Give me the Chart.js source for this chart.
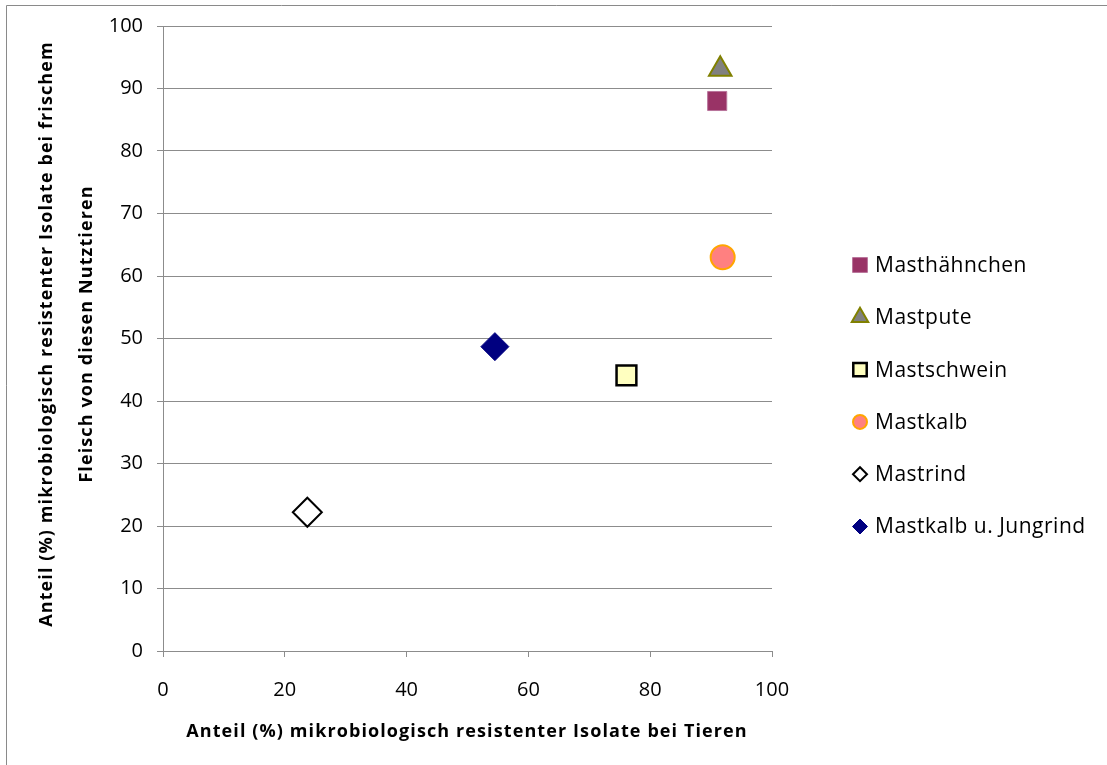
<!DOCTYPE html>
<html lang="de">
<head>
<meta charset="utf-8">
<title>Resistente Isolate bei Tieren und Fleisch</title>
<script src="https://cdn.jsdelivr.net/npm/chart.js@4.4.1/dist/chart.umd.min.js"></script>
<style>
  html, body { margin: 0; padding: 0; background: #ffffff; }
  #wrap { width: 1107px; height: 765px; position: relative; }
</style>
</head>
<body>
<div id="wrap"><canvas id="chart" width="1107" height="765"></canvas></div>
<script>
// Tierarten (eine Datenreihe je Art)
const seriesNames = ['Masthähnchen', 'Mastpute', 'Mastschwein', 'Mastkalb', 'Mastrind', 'Mastkalb u. Jungrind'];
// Anteil (%) resistenter Isolate bei Tieren
const animalShare = [91.0, 91.5, 76.1, 91.9, 23.7, 54.5];
// Anteil (%) resistenter Isolate bei frischem Fleisch
const meatShare = [88.0, 93.1, 44.1, 63.0, 22.2, 48.7];
// Achsenbeschriftungen
const xTicks = [0, 20, 40, 60, 80, 100];
const yTicks = [0, 10, 20, 30, 40, 50, 60, 70, 80, 90, 100];
const xTitle = 'Anteil (%) mikrobiologisch resistenter Isolate bei Tieren';
const yTitle = ['Anteil (%) mikrobiologisch resistenter Isolate bei frischem', 'Fleisch von diesen Nutztieren'];

// Markerformen und Farben je Reihe
const markerStyles = [
  { pointStyle: 'rect',     radius: 13.5, bg: '#993366', border: '#b8739a', bw: 1,   legendRadius: 10.5 },
  { pointStyle: 'triangle', radius: 13,   bg: '#808080', border: '#808000', bw: 2,   legendRadius: 9.5 },
  { pointStyle: 'rect',     radius: 14,   bg: '#ffffc0', border: '#000000', bw: 2.5, legendRadius: 9.5 },
  { pointStyle: 'circle',   radius: 12,   bg: '#ff8080', border: '#ffa500', bw: 2,   legendRadius: 7 },
  { pointStyle: 'rectRot',  radius: 14.5, bg: '#ffffff', border: '#000000', bw: 2,   legendRadius: 7 },
  { pointStyle: 'rectRot',  radius: 14,   bg: '#000080', border: '#000080', bw: 1,   legendRadius: 7.5 }
];

const FONT = '"Open Sans", "Liberation Sans", sans-serif';
const GRID = '#8c8c8c';

const datasets = seriesNames.map((name, i) => ({
  label: name,
  data: [{ x: animalShare[i], y: meatShare[i] }],
  pointStyle: markerStyles[i].pointStyle,
  pointRadius: markerStyles[i].radius,
  pointHoverRadius: markerStyles[i].radius,
  backgroundColor: markerStyles[i].bg,
  borderColor: markerStyles[i].border,
  pointBorderWidth: markerStyles[i].bw,
  showLine: false
}));

// Rahmen, Achsentitel und Legende
const decorations = {
  id: 'decorations',
  beforeDraw(chart) {
    const ctx = chart.ctx;
    ctx.save();
    ctx.fillStyle = '#ffffff';
    ctx.fillRect(0, 0, chart.width, chart.height);
    ctx.strokeStyle = '#8a8a8a';
    ctx.lineWidth = 1;
    ctx.beginPath();
    ctx.moveTo(6.5, chart.height);
    ctx.lineTo(6.5, 5.5);
    ctx.lineTo(chart.width, 5.5);
    ctx.stroke();
    ctx.restore();
  },
  afterDraw(chart) {
    const ctx = chart.ctx;
    ctx.save();
    ctx.fillStyle = '#000000';
    ctx.font = 'bold 18px ' + FONT;
    ctx.letterSpacing = '1.1px';
    ctx.textAlign = 'center';
    ctx.textBaseline = 'middle';
    ctx.fillText(xTitle, 467, 732);

    ctx.save();
    ctx.translate(0, 334);
    ctx.rotate(-Math.PI / 2);
    ctx.fillText(yTitle[0], 0, 47);
    ctx.fillText(yTitle[1], 0, 87);
    ctx.restore();

    // Legende
    ctx.font = '21px ' + FONT;
    ctx.letterSpacing = '0.5px';
    ctx.textAlign = 'left';
    chart.data.datasets.forEach((ds, i) => {
      const y = 265 + i * 52.3;
      const st = markerStyles[i];
      ctx.fillStyle = st.bg;
      ctx.strokeStyle = st.border;
      ctx.lineWidth = st.bw;
      Chart.helpers.drawPoint(ctx, { pointStyle: st.pointStyle, radius: st.legendRadius, rotation: 0, borderWidth: st.bw }, 860, y);
      ctx.fillStyle = '#000000';
      ctx.fillText(ds.label, 875, y + 1);
    });
    ctx.restore();
  }
};

new Chart(document.getElementById('chart'), {
  type: 'scatter',
  data: { datasets },
  plugins: [decorations],
  options: {
    responsive: false,
    animation: false,
    layout: { padding: { top: 23, right: 335, left: 0, bottom: 0 } },
    plugins: {
      legend: { display: false },
      tooltip: { enabled: false },
      title: { display: false }
    },
    scales: {
      x: {
        type: 'linear',
        min: 0, max: 100,
        afterFit(scale) { scale.height = 114; },
        afterBuildTicks(scale) { scale.ticks = xTicks.map(v => ({ value: v })); },
        ticks: { color: '#000000', font: { family: FONT, size: 20 }, padding: 21, maxRotation: 0 },
        grid: { drawOnChartArea: false, drawTicks: true, tickLength: 6, color: GRID },
        border: { display: true, color: GRID, width: 1 }
      },
      y: {
        type: 'linear',
        min: 0, max: 100,
        afterFit(scale) { scale.width = 163; },
        afterBuildTicks(scale) { scale.ticks = yTicks.map(v => ({ value: v })); },
        ticks: { color: '#000000', font: { family: FONT, size: 20 }, padding: 14 },
        grid: { drawOnChartArea: true, drawTicks: true, tickLength: 6, color: GRID },
        border: { display: true, color: GRID, width: 1 }
      }
    }
  }
});
</script>
</body>
</html>
